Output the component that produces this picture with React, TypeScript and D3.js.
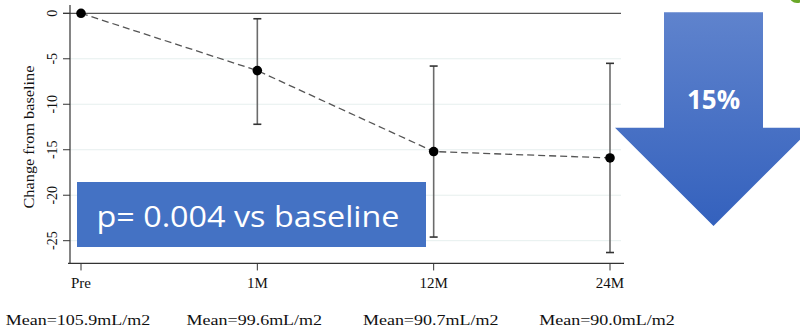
import React from "react";
import * as d3 from "d3";

const categories = ["Pre", "1M", "12M", "24M"];
const meanChange = [0, -6.3, -15.2, -15.9];
const ciUpper = [0, -0.6, -5.8, -5.5];
const ciLower = [0, -12.2, -24.6, -26.3];
const meanLabels = ["Mean=105.9mL/m2", "Mean=99.6mL/m2", "Mean=90.7mL/m2", "Mean=90.0mL/m2"];
const yTicks = [0, -5, -10, -15, -20, -25];
const yTitle = "Change from baseline";
const pText = "p= 0.004 vs baseline";
const arrowText = "15%";

const W = 800;
const H = 328;

export default function App() {
  const x = d3.scalePoint<string>().domain(categories).range([81, 610]);
  const y = d3.scaleLinear().domain([0, -25]).range([13.3, 240.7]);
  const axisLeft = 70;
  const axisBottom = y(-27.5);
  const plotRight = 621;

  const pts = categories.map((c, i) => ({ c, v: meanChange[i], lo: ciLower[i], hi: ciUpper[i] }));
  const line = d3
    .line<{ c: string; v: number }>()
    .x((d) => x(d.c) as number)
    .y((d) => y(d.v));

  const serif = "'Liberation Serif', 'Times New Roman', serif";
  const sans = "'Open Sans', 'Noto Sans', sans-serif";

  // arrow geometry
  const ax = 713.5;
  const shaftHalf = 49.5;
  const headHalf = 98.5;
  const arrowTop = 12.3;
  const headTop = 127.7;
  const tip = 226;
  const arrowPath = [
    [ax - shaftHalf, arrowTop],
    [ax + shaftHalf, arrowTop],
    [ax + shaftHalf, headTop],
    [ax + headHalf, headTop],
    [ax, tip],
    [ax - headHalf, headTop],
    [ax - shaftHalf, headTop],
  ];
  const arrowD = d3.line()(arrowPath as [number, number][]) + "Z";

  return (
    <svg
      width={W}
      height={H}
      style={{ position: "absolute", left: 0, top: 0, background: "#fff" }}
    >
      <defs>
        <linearGradient id="arrowGrad" x1="0" y1="0" x2="0" y2="1">
          <stop offset="0%" stopColor="#5f83cd" />
          <stop offset="100%" stopColor="#3461bd" />
        </linearGradient>
      </defs>
      <rect x={0} y={0} width={W} height={H} fill="#fff" />

      {/* gridlines */}
      {yTicks.slice(1).map((t) => (
        <line key={"g" + t} x1={axisLeft} x2={plotRight} y1={y(t)} y2={y(t)} stroke="#e6efee" strokeWidth={1} />
      ))}
      {/* zero line */}
      <line x1={63} x2={plotRight} y1={y(0)} y2={y(0)} stroke="#555" strokeWidth={1.3} />

      {/* y axis */}
      <line x1={axisLeft} x2={axisLeft} y1={5} y2={axisBottom} stroke="#333" strokeWidth={1.2} />
      {yTicks.map((t) => (
        <g key={"yt" + t}>
          <line x1={axisLeft - 7} x2={axisLeft} y1={y(t)} y2={y(t)} stroke="#333" strokeWidth={1} />
          <text
            transform={`translate(57,${y(t)}) rotate(-90)`}
            textAnchor="middle"
            fontFamily={serif}
            fontSize={14}
            fill="#111"
          >
            {t}
          </text>
        </g>
      ))}
      <text
        transform={`translate(34,137) rotate(-90)`}
        textAnchor="middle"
        fontFamily={serif}
        fontSize={14}
        fill="#111"
        textLength={143}
        lengthAdjust="spacingAndGlyphs"
      >
        {yTitle}
      </text>

      {/* x axis */}
      <line x1={68} x2={624} y1={axisBottom} y2={axisBottom} stroke="#333" strokeWidth={1.2} />
      {categories.map((c, i) => (
        <g key={"xt" + c}>
          <line x1={x(c)} x2={x(c)} y1={axisBottom} y2={axisBottom + 7} stroke="#333" strokeWidth={1} />
          <text x={x(c)} y={288} textAnchor="middle" fontFamily={serif} fontSize={15} fill="#111">
            {c}
          </text>
          <text
            transform={`translate(${x(c)! - 3},325) scale(1.2,1)`}
            textAnchor="middle"
            fontFamily={serif}
            fontSize={15}
            fill="#111"
          >
            {meanLabels[i]}
          </text>
        </g>
      ))}

      {/* dashed line */}
      <path d={line(pts) || ""} fill="none" stroke="#555" strokeWidth={1.3} strokeDasharray="7,4" />

      {/* error bars */}
      {pts
        .filter((p) => p.hi !== p.lo)
        .map((p) => (
          <g key={"eb" + p.c} stroke="#6b6b6b" strokeWidth={1.6}>
            <line x1={x(p.c)} x2={x(p.c)} y1={y(p.hi)} y2={y(p.lo)} />
            <line x1={x(p.c)! - 4} x2={x(p.c)! + 4} y1={y(p.hi)} y2={y(p.hi)} stroke="#333" />
            <line x1={x(p.c)! - 4} x2={x(p.c)! + 4} y1={y(p.lo)} y2={y(p.lo)} stroke="#333" />
          </g>
        ))}

      {/* points */}
      {pts.map((p) => (
        <circle key={"pt" + p.c} cx={x(p.c)} cy={y(p.v)} r={4.8} fill="#000" />
      ))}

      {/* p-value box */}
      <rect x={77} y={182} width={349} height={65} fill="#4472c4" />
      <text
        x={248}
        y={227}
        textAnchor="middle"
        fontFamily={sans}
        fontSize={29}
        fill="#fff"
        textLength={303}
        lengthAdjust="spacingAndGlyphs"
      >
        {pText}
      </text>

      {/* arrow */}
      <path d={arrowD} fill="url(#arrowGrad)" />
      <text x={ax} y={109} textAnchor="middle" fontFamily={sans} fontWeight="bold" fontSize={26} fill="#fff">
        {arrowText}
      </text>

      {/* cropped green element at top right */}
      <circle cx={797} cy={-5} r={8} fill="#6aa829" />
    </svg>
  );
}
